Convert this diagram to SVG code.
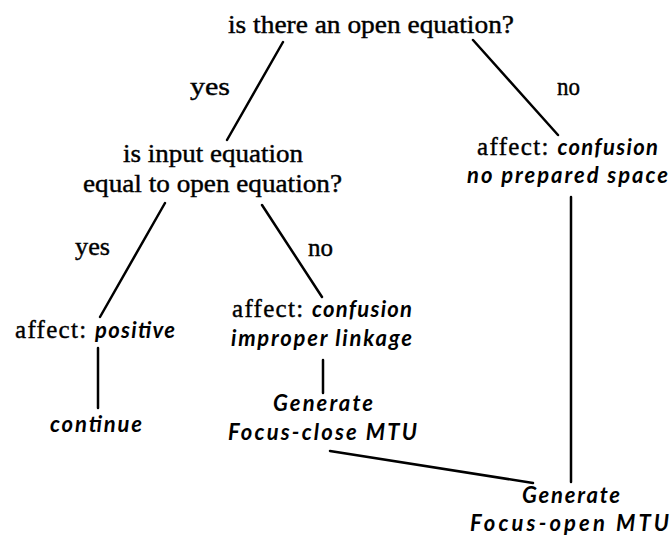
<svg xmlns="http://www.w3.org/2000/svg" width="672" height="547" viewBox="0 0 672 547">
<style>
.r{font-family:"Liberation Serif","Times New Roman",serif;font-size:25px;fill:#000;stroke:#000;stroke-width:0.4}
.i{font-family:Lato,"Open Sans",sans-serif;font-style:italic;font-weight:bold;font-size:22px;fill:#000}
.e{stroke:#000;stroke-width:2.5;fill:none;stroke-linecap:round}
</style>
<rect width="672" height="547" fill="#fff"/>
<g id="connectors">
<line class="e" x1="283" y1="42" x2="227" y2="140"/>
<line class="e" x1="473" y1="40" x2="558" y2="135"/>
<line class="e" x1="165" y1="203" x2="100" y2="317"/>
<line class="e" x1="262" y1="205" x2="322" y2="297"/>
<line class="e" x1="98" y1="348" x2="98" y2="408"/>
<line class="e" x1="323" y1="360" x2="323" y2="393"/>
<line class="e" x1="571" y1="197" x2="571" y2="482"/>
<line class="e" x1="330" y1="451" x2="533" y2="483"/>
<text class="r" x="190" y="95" textLength="40" lengthAdjust="spacingAndGlyphs">yes</text>
<text class="r" x="557" y="95" textLength="23" lengthAdjust="spacingAndGlyphs">no</text>
<text class="r" x="75" y="255" textLength="35" lengthAdjust="spacingAndGlyphs">yes</text>
<text class="r" x="308" y="256" textLength="25" lengthAdjust="spacingAndGlyphs">no</text>
</g>
<g id="q1">
<text class="r" x="228" y="33" textLength="286" lengthAdjust="spacingAndGlyphs">is there an open equation?</text>
</g>
<g id="q2">
<text class="r" x="123" y="162" textLength="180" lengthAdjust="spacingAndGlyphs">is input equation</text>
<text class="r" x="83" y="192" textLength="259" lengthAdjust="spacingAndGlyphs">equal to open equation?</text>
</g>
<g id="positive">
<text x="15" y="338" textLength="160" lengthAdjust="spacing"><tspan class="r">affect: </tspan><tspan class="i">positive</tspan></text>
</g>
<g id="continue">
<text class="i" x="50" y="432" textLength="92" lengthAdjust="spacing">continue</text>
</g>
<g id="improper">
<text x="232" y="317" textLength="180" lengthAdjust="spacing"><tspan class="r">affect: </tspan><tspan class="i">confusion</tspan></text>
<text class="i" x="231" y="346" textLength="181" lengthAdjust="spacing">improper linkage</text>
</g>
<g id="focusclose">
<text class="i" x="273" y="411" textLength="100" lengthAdjust="spacing">Generate</text>
<text class="i" x="228" y="440" textLength="189" lengthAdjust="spacing">Focus-close MTU</text>
</g>
<g id="noprepared">
<text x="477" y="155" textLength="181" lengthAdjust="spacing"><tspan class="r">affect: </tspan><tspan class="i">confusion</tspan></text>
<text class="i" x="467" y="183" textLength="201" lengthAdjust="spacing">no prepared space</text>
</g>
<g id="focusopen">
<text class="i" x="522" y="503" textLength="98" lengthAdjust="spacing">Generate</text>
<text class="i" x="470" y="531" textLength="199" lengthAdjust="spacing">Focus-open MTU</text>
</g>
</svg>
